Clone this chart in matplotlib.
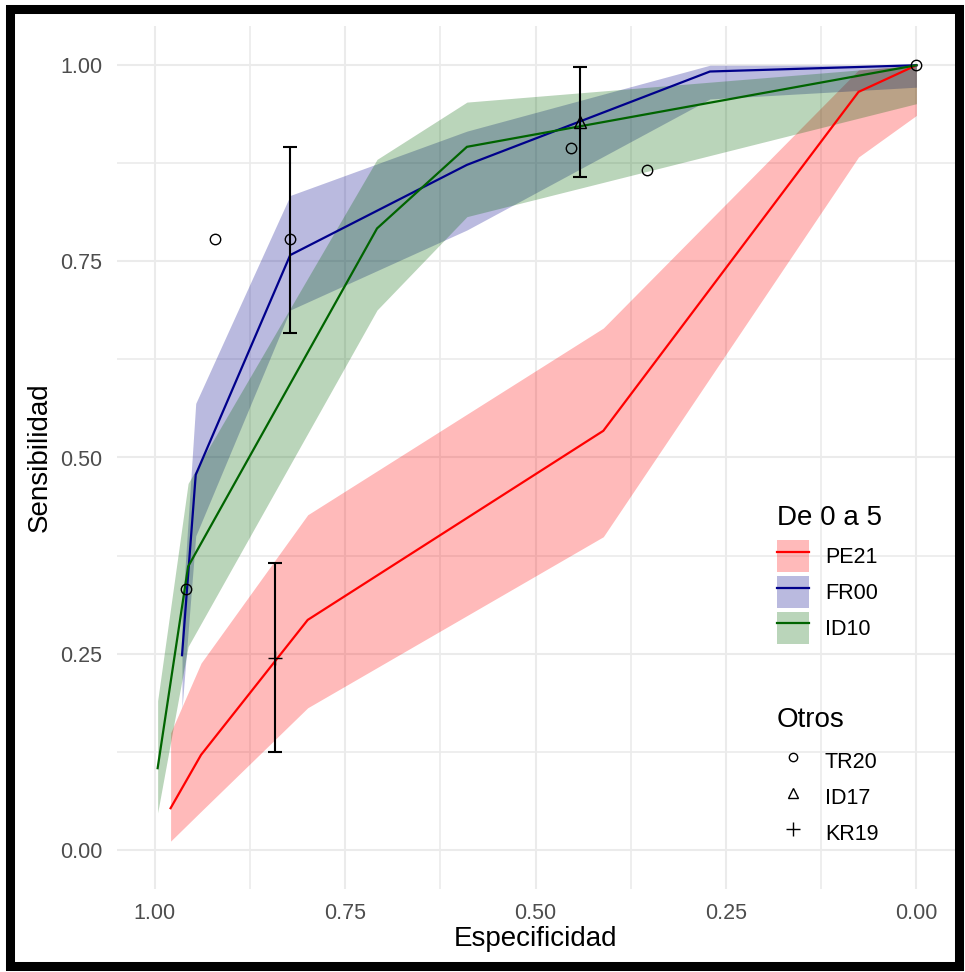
import matplotlib
matplotlib.use("Agg")
import matplotlib.pyplot as plt
from matplotlib.patches import Patch, Rectangle
from matplotlib.lines import Line2D
from matplotlib.legend_handler import HandlerTuple

plt.rcParams['font.family'] = ['Liberation Sans', 'DejaVu Sans']

# ---------------- data ----------------
series_names = ["PE21", "FR00", "ID10"]
series_colors = ["#FF0000", "#00008B", "#006400"]

pe21_x = [0.979, 0.939, 0.799, 0.411, 0.076, 0.0]
pe21_y = [0.053, 0.121, 0.293, 0.534, 0.966, 1.0]
pe21_hi = [0.149, 0.238, 0.427, 0.665, 0.994, 1.0]
pe21_lo = [0.011, 0.049, 0.181, 0.399, 0.883, 0.936]

fr00_x = [0.964, 0.946, 0.822, 0.590, 0.271, 0.0]
fr00_y = [0.248, 0.478, 0.758, 0.873, 0.992, 1.0]
fr00_hi = [0.300, 0.569, 0.834, 0.916, 1.0, 1.0]
fr00_lo = [0.180, 0.400, 0.688, 0.790, 0.957, 0.972]

id10_x = [0.996, 0.956, 0.708, 0.590, 0.0]
id10_y = [0.104, 0.361, 0.792, 0.896, 1.0]
id10_hi = [0.190, 0.467, 0.880, 0.953, 1.0]
id10_lo = [0.047, 0.259, 0.688, 0.807, 0.951]

tr20_x = [0.921, 0.822, 0.959, 0.453, 0.353, 0.0]
tr20_y = [0.778, 0.778, 0.333, 0.894, 0.866, 1.0]
tr20_err_x = [0.822]
tr20_err_lo = [0.659]
tr20_err_hi = [0.896]

id17_x = [0.442]
id17_y = [0.928]
id17_lo = [0.858]
id17_hi = [0.998]

kr19_x = [0.842]
kr19_y = [0.245]
kr19_lo = [0.125]
kr19_hi = [0.365]

ticks = [0.0, 0.25, 0.5, 0.75, 1.0]
tick_labels = ["0.00", "0.25", "0.50", "0.75", "1.00"]
minor_ticks = [0.125, 0.375, 0.625, 0.875]

# ---------------- figure ----------------
W, H = 965, 972
fig = plt.figure(figsize=(W / 100, H / 100), dpi=100)
ax = fig.add_axes([116.5 / W, 1 - 889 / H, (954.5 - 116.5) / W, (889 - 26) / H])
ax.set_xlim(1.05, -0.05)
ax.set_ylim(-0.05, 1.05)

for s in ax.spines.values():
    s.set_visible(False)
ax.set_xticks(ticks)
ax.set_xticklabels(tick_labels)
ax.set_yticks(ticks)
ax.set_yticklabels(tick_labels)
ax.set_xticks(minor_ticks, minor=True)
ax.set_yticks(minor_ticks, minor=True)
ax.tick_params(which='both', length=0)
ax.tick_params(axis='x', which='major', pad=10, labelsize=15.5, labelcolor='#4D4D4D')
ax.tick_params(axis='y', which='major', pad=10, labelsize=15.5, labelcolor='#4D4D4D')
ax.grid(which='major', color='#EBEBEB', linewidth=1.5)
ax.grid(which='minor', color='#EBEBEB', linewidth=1.2)
ax.set_axisbelow(True)

alpha = 0.27
data = [
    (pe21_x, pe21_y, pe21_lo, pe21_hi),
    (fr00_x, fr00_y, fr00_lo, fr00_hi),
    (id10_x, id10_y, id10_lo, id10_hi),
]
for (x, y, lo, hi), c in zip(data, series_colors):
    ax.fill_between(x, lo, hi, color=c, alpha=alpha, linewidth=0, zorder=2)
for (x, y, lo, hi), c in zip(data, series_colors):
    ax.plot(x, y, color=c, linewidth=1.6, zorder=3, solid_joinstyle='miter')

# error bars
eb_kw = dict(fmt='none', ecolor='black', elinewidth=1.5, capsize=4.7, capthick=1.5, zorder=4)
tr20_mid = [(a + b) / 2 for a, b in zip(tr20_err_lo, tr20_err_hi)]
ax.errorbar(tr20_err_x, tr20_mid,
            yerr=[[m - a for m, a in zip(tr20_mid, tr20_err_lo)],
                  [b - m for m, b in zip(tr20_mid, tr20_err_hi)]], **eb_kw)
ax.errorbar(id17_x, id17_y,
            yerr=[[y - l for y, l in zip(id17_y, id17_lo)], [h - y for y, h in zip(id17_y, id17_hi)]], **eb_kw)
ax.errorbar(kr19_x, kr19_y,
            yerr=[[y - l for y, l in zip(kr19_y, kr19_lo)], [h - y for y, h in zip(kr19_y, kr19_hi)]], **eb_kw)

# points
ax.plot(tr20_x, tr20_y, ls='none', marker='o', ms=7.5, mfc='none', mec='black', mew=1.0, zorder=5)
ax.plot(id17_x, id17_y, ls='none', marker='^', ms=9, mfc='none', mec='black', mew=1.0, zorder=5)
ax.plot(kr19_x, kr19_y, ls='none', marker='+', ms=10, mec='black', mew=1.0, zorder=5)

# axis titles
fig.text(535.5 / W, 1 - 939 / H, "Especificidad", ha='center', va='center', fontsize=20, color='black')
fig.text(40 / W, 1 - 457 / H, "Sensibilidad", ha='center', va='center', rotation=90, fontsize=20, color='black')

# legends
h1 = [(Patch(facecolor=c, alpha=alpha, edgecolor='none'), Line2D([], [], color=c, lw=1.6))
      for c in series_colors]
leg_kw = dict(frameon=False, fontsize=15.5, title_fontsize=20, handlelength=1.5, handleheight=1.9,
              handletextpad=0.72, labelspacing=0.19, borderpad=0, borderaxespad=0,
              alignment='left', loc='upper left', bbox_transform=fig.transFigure)
leg1 = ax.legend(h1, series_names, title="De 0 a 5", bbox_to_anchor=(777 / W, 1 - 505 / H),
                 handler_map={tuple: HandlerTuple(ndivide=1, pad=0)}, **leg_kw)
leg1._legend_box.sep = 6.6
ax.add_artist(leg1)
h2 = [Line2D([], [], ls='none', marker='o', ms=6, mfc='none', mec='black', mew=1.0),
      Line2D([], [], ls='none', marker='^', ms=7.5, mfc='none', mec='black', mew=1.0),
      Line2D([], [], ls='none', marker='+', ms=10, mec='black', mew=1.0)]
leg2 = ax.legend(h2, ["TR20", "ID17", "KR19"], title="Otros", bbox_to_anchor=(777 / W, 1 - 707 / H),
                 **leg_kw)
leg2._legend_box.sep = 8.8

# outer black frame
fig.patches.append(Rectangle((10 / W, 1 - 966 / H), (959 - 10) / W, (966 - 9.5) / H,
                             transform=fig.transFigure, fill=False, edgecolor='black',
                             linewidth=6.5, zorder=10))

fig.savefig("out.png", dpi=100)
